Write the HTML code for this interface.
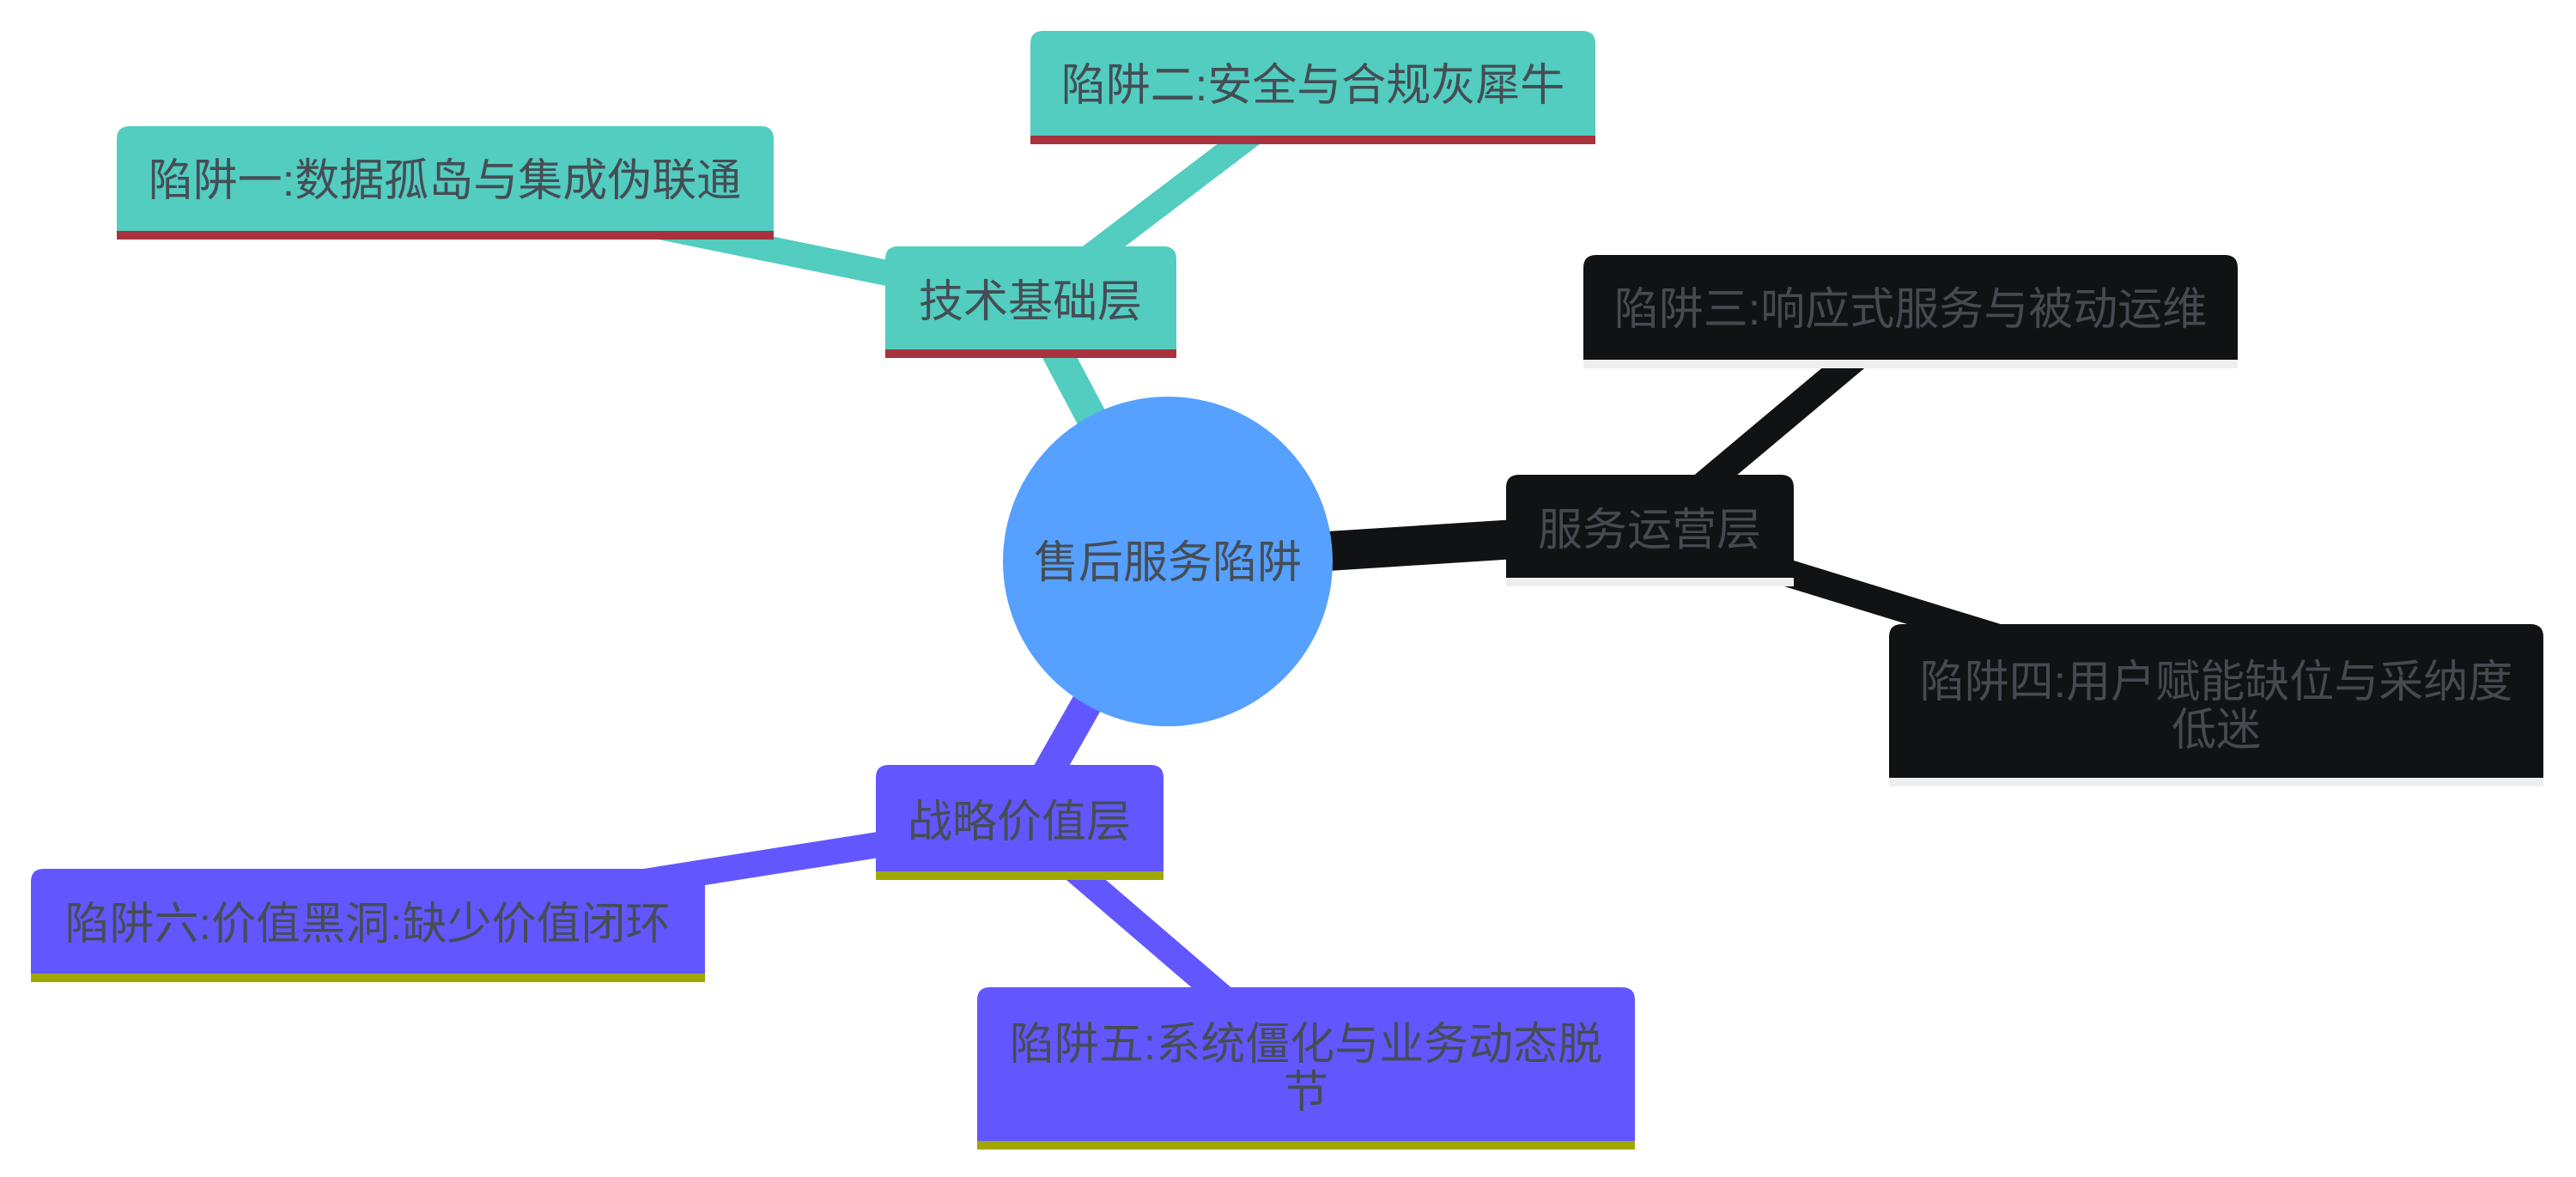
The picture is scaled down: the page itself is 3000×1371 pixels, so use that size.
<!DOCTYPE html>
<html><head><meta charset="utf-8"><style>
html,body{margin:0;padding:0;background:#fff;}
svg{display:block;}
text{font-family:"Liberation Sans","Noto Sans CJK SC",sans-serif;font-size:52px;text-anchor:middle;dominant-baseline:central;}
</style></head><body>
<svg width="3000" height="1371" viewBox="0 0 3000 1371" xmlns="http://www.w3.org/2000/svg">
<g stroke-linecap="butt">
<line x1="1360" y1="654" x2="1200" y2="352" stroke="#52cdc0" stroke-width="36"/>
<line x1="1200" y1="352" x2="518" y2="213" stroke="#52cdc0" stroke-width="30"/>
<line x1="1200" y1="352" x2="1529" y2="102" stroke="#52cdc0" stroke-width="30"/>
<line x1="1360" y1="654" x2="1921" y2="618" stroke="#111214" stroke-width="46"/>
<line x1="1921" y1="618" x2="2225" y2="363" stroke="#111214" stroke-width="32"/>
<line x1="1921" y1="618" x2="2581" y2="821" stroke="#111214" stroke-width="32"/>
<line x1="1360" y1="654" x2="1187" y2="958" stroke="#6257ff" stroke-width="36"/>
<line x1="1187" y1="958" x2="428" y2="1078" stroke="#6257ff" stroke-width="30"/>
<line x1="1187" y1="958" x2="1521" y2="1245" stroke="#6257ff" stroke-width="30"/>
</g>
<circle cx="1360" cy="654" r="192" fill="#56a0ff"/>
<text x="1360" y="656" fill="#454d55">售后服务陷阱</text>

<path d="M1031 417 V302 q0-15 15-15 H1355 q15 0 15 15 V417 Z" fill="#52cdc0"/>
<rect x="1031" y="407" width="339" height="10" fill="#a8323e"/>
<text x="1200" y="352" fill="#454d55">技术基础层</text>

<path d="M136 279 V162 q0-15 15-15 H886 q15 0 15 15 V279 Z" fill="#52cdc0"/>
<rect x="136" y="269" width="765" height="10" fill="#a8323e"/>
<text x="518" y="211" fill="#454d55">陷阱一:数据孤岛与集成伪联通</text>

<path d="M1200 168 V51 q0-15 15-15 H1843 q15 0 15 15 V168 Z" fill="#52cdc0"/>
<rect x="1200" y="158" width="658" height="10" fill="#a8323e"/>
<text x="1529" y="100" fill="#454d55">陷阱二:安全与合规灰犀牛</text>

<path d="M1754 683 V568 q0-15 15-15 H2074 q15 0 15 15 V683 Z" fill="#111214"/>
<rect x="1754" y="673" width="335" height="10" fill="#eeeeee"/>
<text x="1921" y="618" fill="#454a50">服务运营层</text>

<path d="M1844 429 V312 q0-15 15-15 H2591 q15 0 15 15 V429 Z" fill="#111214"/>
<rect x="1844" y="419" width="762" height="10" fill="#eeeeee"/>
<text x="2225" y="361" fill="#454a50">陷阱三:响应式服务与被动运维</text>

<path d="M2200 916 V742 q0-15 15-15 H2947 q15 0 15 15 V916 Z" fill="#111214"/>
<rect x="2200" y="906" width="762" height="10" fill="#eeeeee"/>
<text x="2581" y="795" fill="#454a50">陷阱四:用户赋能缺位与采纳度</text>
<text x="2581" y="851" fill="#454a50">低迷</text>

<path d="M1020 1025 V906 q0-15 15-15 H1340 q15 0 15 15 V1025 Z" fill="#6257ff"/>
<rect x="1020" y="1015" width="335" height="10" fill="#a0a800"/>
<text x="1187" y="958" fill="#454d55">战略价值层</text>

<path d="M36 1144 V1027 q0-15 15-15 H806 q15 0 15 15 V1144 Z" fill="#6257ff"/>
<rect x="36" y="1134" width="785" height="10" fill="#a0a800"/>
<text x="428" y="1077" fill="#454d55">陷阱六:价值黑洞:缺少价值闭环</text>

<path d="M1138 1339 V1165 q0-15 15-15 H1889 q15 0 15 15 V1339 Z" fill="#6257ff"/>
<rect x="1138" y="1329" width="766" height="10" fill="#a0a800"/>
<text x="1521" y="1217" fill="#454d55">陷阱五:系统僵化与业务动态脱</text>
<text x="1521" y="1273" fill="#454d55">节</text>
</svg>
</body></html>
